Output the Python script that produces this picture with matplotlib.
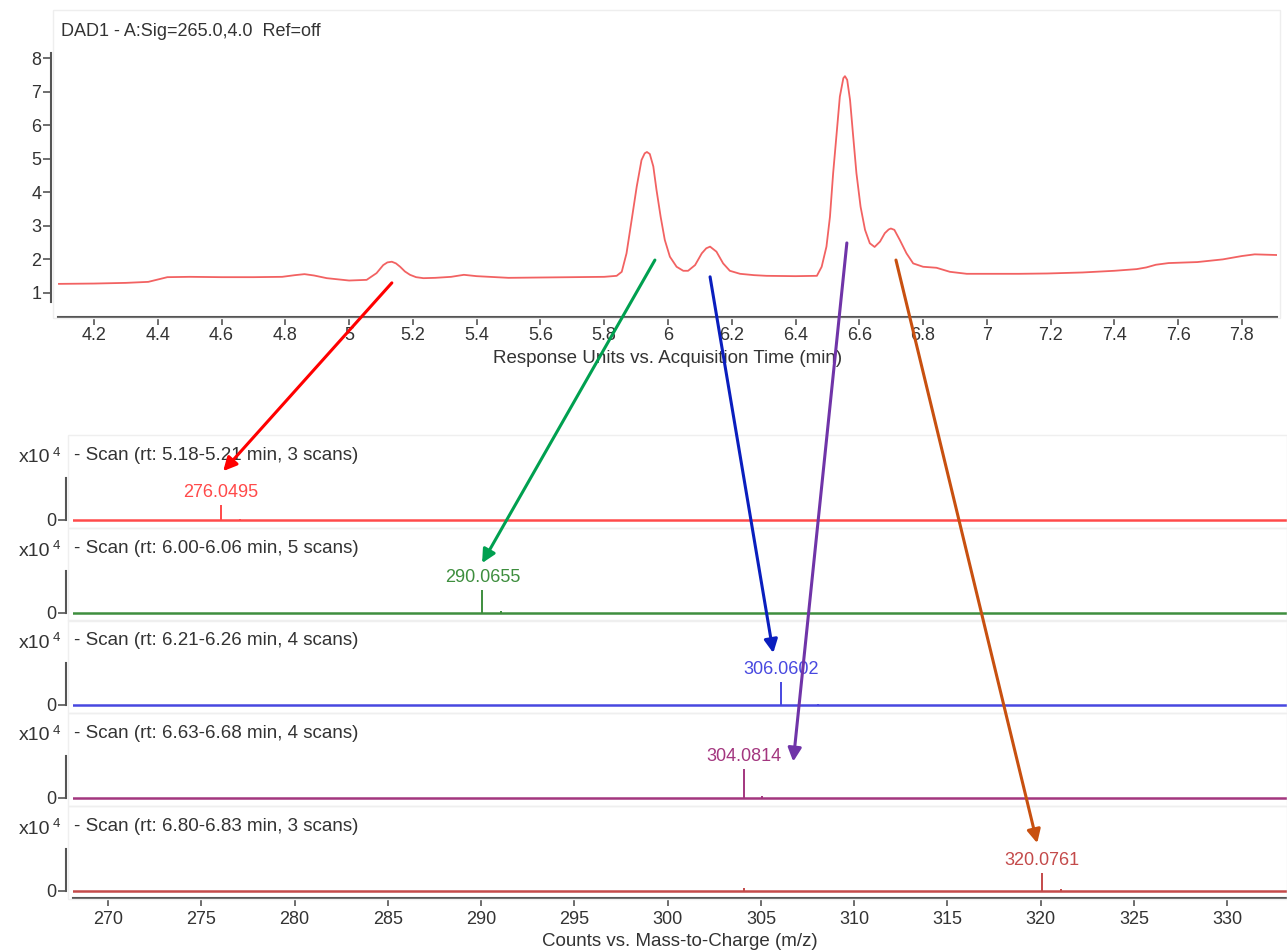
import matplotlib
matplotlib.use("Agg")
import matplotlib.pyplot as plt
from matplotlib.patches import ConnectionPatch, Rectangle
from matplotlib.ticker import FuncFormatter

# DAD trace (time in min, response units)
time_min = [4.09, 4.20, 4.30, 4.37, 4.40, 4.43, 4.50, 4.60, 4.70, 4.79, 4.83, 4.86,
            4.89, 4.93, 5.00, 5.055, 5.086, 5.107, 5.12, 5.134, 5.147, 5.16, 5.175,
            5.191, 5.21, 5.233, 5.27, 5.32, 5.36, 5.40, 5.50, 5.60, 5.70, 5.80,
            5.839, 5.855, 5.870, 5.886, 5.902, 5.917, 5.927, 5.934, 5.943, 5.954,
            5.964, 5.977, 5.990, 6.006, 6.027, 6.048, 6.063, 6.085, 6.106, 6.120,
            6.132, 6.152, 6.173, 6.194, 6.226, 6.27, 6.309, 6.40, 6.467, 6.482,
            6.497, 6.508, 6.518, 6.529, 6.539, 6.550, 6.555, 6.562, 6.571, 6.580,
            6.591, 6.604, 6.618, 6.633, 6.648, 6.665, 6.680, 6.692, 6.699, 6.710,
            6.727, 6.748, 6.769, 6.80, 6.842, 6.884, 6.937, 7.01, 7.10, 7.19, 7.30,
            7.40, 7.47, 7.50, 7.53, 7.57, 7.66, 7.74, 7.80, 7.84, 7.91]
dad_signal = [1.27, 1.28, 1.30, 1.33, 1.40, 1.47, 1.48, 1.47, 1.47, 1.48, 1.53, 1.56,
              1.52, 1.44, 1.37, 1.39, 1.59, 1.83, 1.91, 1.93, 1.88, 1.78, 1.64,
              1.54, 1.47, 1.44, 1.45, 1.48, 1.54, 1.50, 1.45, 1.46, 1.47, 1.48,
              1.51, 1.63, 2.18, 3.17, 4.17, 4.96, 5.16, 5.20, 5.14, 4.77,
              4.07, 3.27, 2.58, 2.08, 1.78, 1.66, 1.66, 1.83, 2.18, 2.33,
              2.38, 2.23, 1.88, 1.66, 1.57, 1.53, 1.51, 1.50, 1.51, 1.78,
              2.38, 3.27, 4.57, 5.76, 6.85, 7.40, 7.46, 7.35, 6.75, 5.76,
              4.57, 3.57, 2.88, 2.48, 2.37, 2.53, 2.78, 2.89, 2.92, 2.88,
              2.58, 2.18, 1.88, 1.78, 1.75, 1.63, 1.57, 1.57, 1.57, 1.58, 1.61,
              1.66, 1.71, 1.76, 1.84, 1.89, 1.92, 2.00, 2.10, 2.15, 2.13]

time_ticks = [4.2, 4.4, 4.6, 4.8, 5.0, 5.2, 5.4, 5.6, 5.8, 6.0, 6.2, 6.4, 6.6, 6.8,
              7.0, 7.2, 7.4, 7.6, 7.8]
mz_ticks = [270, 275, 280, 285, 290, 295, 300, 305, 310, 315, 320, 325, 330]

# MS scans (x10^4 counts)
scan_labels = ["- Scan (rt: 5.18-5.21 min, 3 scans)",
               "- Scan (rt: 6.00-6.06 min, 5 scans)",
               "- Scan (rt: 6.21-6.26 min, 4 scans)",
               "- Scan (rt: 6.63-6.68 min, 4 scans)",
               "- Scan (rt: 6.80-6.83 min, 3 scans)"]
peak_mz = [276.0495, 290.0655, 306.0602, 304.0814, 320.0761]
peak_height = [0.35, 0.55, 0.55, 0.70, 0.42]
minor_mz = [[277.05], [291.07], [308.06], [305.08], [304.08, 321.08]]
minor_height = [[0.03], [0.04], [0.03], [0.05], [0.06, 0.05]]
scan_colors = ["#ff4a4a", "#3e8e3e", "#4848e0", "#a3367f", "#c44a4a"]

# arrows: from chromatogram (rt, response) to spectrum (m/z, height)
arrow_rt = [5.134, 5.959, 6.132, 6.561, 6.715]
arrow_rt_y = [1.30, 1.98, 1.48, 2.49, 1.98]
arrow_mz = [276.17, 290.05, 305.66, 306.73, 319.81]
arrow_mz_y = [1.175, 1.20, 1.25, 0.875, 1.15]
arrow_colors = ["#ff0000", "#00a050", "#0a1ebe", "#7034a8", "#c85010"]

W, H = 1287, 951
REG = ["Liberation Sans", "DejaVu Sans"]
TXT = "#333333"
AXC = "#555555"

plt.rcParams["font.family"] = REG
fig = plt.figure(figsize=(W / 100, H / 100), dpi=100)


def box(left, top, right, bottom):
    return [left / W, 1 - bottom / H, (right - left) / W, (bottom - top) / H]


def style_axes(ax):
    for s in ["top", "right"]:
        ax.spines[s].set_visible(False)
    for s in ["left", "bottom"]:
        ax.spines[s].set_color(AXC)
        ax.spines[s].set_linewidth(1.5)
    ax.tick_params(colors=AXC, labelcolor=TXT, length=6, width=1.2,
                   labelsize=13)


# faint frames like the original software panels
fig.add_artist(Rectangle((53 / W, 1 - 318 / H), 1227 / W, 308 / H,
                         transform=fig.transFigure, fill=False, ec="#eeeeee", lw=1))

# --- chromatogram ---
ax = fig.add_axes(box(58, 53, 1277, 302))
ax.plot(time_min, dad_signal, color="#f26262", lw=1.3, solid_joinstyle="round")
ax.set_xlim(4.087, 7.91)
ax.set_ylim(0.73, 8.15)
style_axes(ax)
ax.spines["left"].set_position(("outward", 5))
ax.spines["bottom"].set_position(("outward", 11))
ax.set_xticks(time_ticks)
ax.set_yticks(range(1, 9))
ax.xaxis.set_major_formatter(FuncFormatter(lambda v, p: f"{v:g}"))
ax.tick_params(axis="y", pad=1)
ax.tick_params(axis="x", pad=1)
ax.set_xlabel("Response Units vs. Acquisition Time (min)", fontsize=13.5,
              color=TXT, labelpad=4)
fig.text(61 / W, 1 - 32 / H, "DAD1 - A:Sig=265.0,4.0  Ref=off", fontsize=13,
         color=TXT, va="center", ha="left")

# --- mass spectra ---
baselines = [520, 613, 705, 798, 891]
spec_axes = []
for i, base in enumerate(baselines):
    fig.add_artist(Rectangle((68 / W, 1 - (base + 8) / H), 1219 / W, 93 / H,
                             transform=fig.transFigure, fill=False,
                             ec="#efefef", lw=1))
    sa = fig.add_axes(box(73, base - 80, 1287, base + 3))
    sa.set_xlim(268.12, 333.2)
    sa.set_ylim(-0.075, 1.925)
    c = scan_colors[i]
    sa.axhline(0, color=c, lw=1.8)
    sa.vlines([peak_mz[i]], 0, [peak_height[i]], color=c, lw=1.4)
    sa.vlines(minor_mz[i], 0, minor_height[i], color=c, lw=1.4)
    sa.text(peak_mz[i], peak_height[i] + 0.1, f"{peak_mz[i]:.4f}", color=c,
            ha="center", va="bottom", fontsize=13)
    sa.text(268.2, 1.55, scan_labels[i], color=TXT, fontsize=13.5, va="center")
    style_axes(sa)
    sa.spines["left"].set_position(("outward", 5))
    sa.spines["left"].set_bounds(0, 1)
    sa.set_yticks([0])
    sa.set_yticklabels(["0"])
    sa.tick_params(axis="y", pad=1)
    fig.text(50 / W, 1 - (base - 62) / H, "x10", fontsize=14, color=TXT,
             ha="right", va="center")
    fig.text(53 / W, 1 - (base - 67) / H, "4", fontsize=9.5, color=TXT,
             ha="left", va="center")
    if i < len(baselines) - 1:
        sa.spines["bottom"].set_visible(False)
        sa.set_xticks([])
    else:
        sa.spines["bottom"].set_position(("outward", 3))
        sa.set_xticks(mz_ticks)
        sa.set_xlabel("Counts vs. Mass-to-Charge (m/z)", fontsize=13.5,
                      color=TXT, labelpad=3)
    sa.patch.set_alpha(0)
    spec_axes.append(sa)

# arrows linking chromatogram peaks to their spectra
for i in range(len(arrow_rt)):
    con = ConnectionPatch(xyA=(arrow_rt[i], arrow_rt_y[i]), coordsA=ax.transData,
                          xyB=(arrow_mz[i], arrow_mz_y[i]),
                          coordsB=spec_axes[i].transData,
                          arrowstyle="-|>", mutation_scale=20, lw=2.2,
                          color=arrow_colors[i], shrinkA=0, shrinkB=0)
    fig.add_artist(con)

fig.savefig("out.png", dpi=100, facecolor="white")
